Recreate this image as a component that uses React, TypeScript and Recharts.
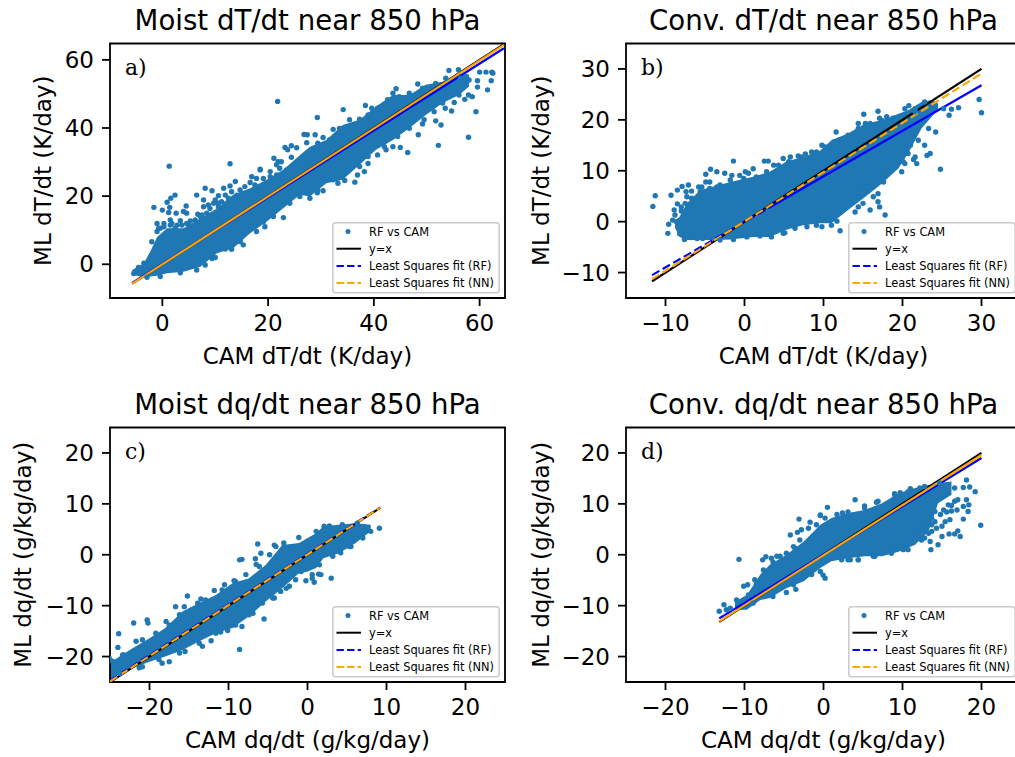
import { Area, ComposedChart, Label, Legend, Line, ReferenceArea, Scatter, XAxis, YAxis } from "recharts";

const DOT_BLUE = "#1f77b4";
const SANS = "'DejaVu Sans', sans-serif";

// dense core of each cloud: edges, x / lower / upper
const aBandX = [-5.7, -3.5, -2.3, -1, 0.9, 4, 7.2, 10.3, 13.4, 16.6, 19.7, 22.8, 26, 27.9, 31, 34.1, 37.3, 40.4, 43.6, 46.7, 49.8, 53, 56.1, 58];
const aBandLow = [-3.1, -3.8, -3.6, -3.4, -2.6, -2.2, -0.7, 3.2, 4.7, 9.1, 12.5, 16.4, 20.4, 19.9, 23.8, 24.8, 29.2, 33.6, 36.5, 39.9, 43.8, 47.3, 49.7, 52.2];
const aBandHigh = [-1.7, 0.3, 3.7, 8, 10.6, 10.6, 13.5, 16.4, 20.4, 22.3, 24.8, 27.7, 32, 34.5, 36.5, 40.9, 42.4, 46.3, 49.7, 49.7, 52.7, 53.6, 56.1, 55.6];

const bBandX = [-8.8, -8.2, -7.3, -5.6, -3.9, -1.8, 1.1, 3.2, 5.3, 7.4, 9.6, 11, 13.1, 15.3, 17.4, 19.5, 20.7, 22.4, 23.7, 24.5];
const bBandLow = [-1.2, -3, -3.6, -3.6, -3.6, -3.5, -3, -3, -1.6, -0.7, -0.3, -0.3, 2.3, 4.9, 7.5, 10.5, 13.4, 18.3, 20.6, 22.2];
const bBandHigh = [0.2, 1, 3.6, 6.2, 6.9, 7.8, 8.8, 9.8, 11.8, 12.7, 14, 16, 17.3, 19.3, 19.9, 21.2, 21.9, 23.5, 23.9, 23.2];

const cBandX = [-25.1, -23.8, -22.2, -20, -18, -15.8, -13.7, -11.6, -9.5, -7.4, -5.3, -3.2, -1.05, 0, 1.1, 2, 4, 6.1, 8];
const cBandLow = [-24.6, -23.3, -22.3, -21, -20, -18.7, -17, -15.4, -14.4, -12.1, -9.2, -6.6, -3.6, -3.3, -2.6, -0.7, 0.3, 2.3, 4.6];
const cBandHigh = [-21.3, -20, -18.4, -16.4, -14.4, -11.1, -9.5, -7.9, -5.6, -4.6, -2, 1.9, 2.3, 3.3, 4.2, 5.6, 5.9, 6.2, 5.9];

const dBandX = [-11.2, -9.7, -8, -6.8, -4.7, -2.5, -0.4, 1, 3.1, 5.2, 7.4, 9.5, 11.6, 13.3, 14.5, 16.2];
const dBandLow = [-10.8, -10.8, -8.9, -8.5, -6.6, -5.2, -2.6, -1.3, -0.7, -0.3, -0.3, 0.6, 1.96, 4.6, 10.1, 11.8];
const dBandHigh = [-9.2, -7.9, -3.9, -1.97, 0, 2.6, 5.9, 7.2, 8.2, 8.8, 10.1, 12.1, 13.1, 13.7, 14.1, 14.4];

// individual points standing clear of the core, then those along its rough edge
const aDots = [
  [-1.6, 16.7], [0, 15.9], [0.9, 18.2], [1.6, 19.4], [2.4, 20.3], [1.4, 16.7], [1.2, 15.2], [2.6, 15], [4, 15.5], [4.5, 17.1],
  [4.6, 15], [6.5, 20.3], [6.7, 14.7], [-1, 12], [0.3, 12], [1.5, 13], [3.4, 12.8], [2.8, 11.5], [5.3, 12.7], [8.1, 22.3],
  [9.4, 21.6], [10.6, 20.1], [7.8, 18.9], [10, 18.9], [8.7, 17.4], [11.6, 22.3], [13.8, 24.3], [12.8, 23], [16.9, 25.7], [18.5, 27.7],
  [16.6, 24], [17.8, 25.2], [22.9, 13.7], [19.4, 11], [19.1, 12.5], [15.3, 5.7], [13.1, 4.4], [10, 2], [16, 10], [14.7, 7.1],
  [21.8, 47.8], [1.3, 28.8], [12.8, 29.5], [18.5, 27.9], [26.8, 38.1], [27.4, 38], [23.2, 34.3], [24.4, 34.8], [23.7, 33.6], [25.4, 34.2],
  [27.3, 35.7], [21.1, 31.1], [21.9, 30.1], [22.5, 30.1], [24.4, 31.4], [21.6, 29.2], [29.3, 43.1], [34.2, 45.4], [32.3, 39.6], [28.9, 38],
  [30.4, 37.2], [38.4, 46.6], [39.6, 45.8], [43.6, 50.2], [44.2, 51.5], [48.3, 52.9], [54.2, 56.9], [56, 57.1], [60, 56.4], [61.2, 56.4],
  [62.3, 56.4], [62.5, 56.1], [62.2, 53.9], [61.5, 51.2], [59.6, 53.9], [59.6, 52], [58.6, 49.2], [57.2, 48.4], [57.9, 49.7], [58, 54.1],
  [57.4, 55.1], [55.2, 47.5], [54.7, 45], [53.5, 45.8], [59.3, 44.8], [57.9, 37.3], [52.2, 34.9], [46.4, 32.8], [45, 34.3], [48.4, 38],
  [49.2, 41.2], [51.7, 42.1], [52.7, 40.9], [51.4, 44.8], [38.2, 27.2], [36.9, 26.2], [36.4, 24.1], [38.9, 29.6], [37.3, 28.7], [34.5, 24.6],
  [33.2, 23.8], [30.4, 21.6], [29.3, 21], [27.9, 19.4], [43.6, 34.5], [40.7, 32.1], [42.3, 33.6],
  [-0.4, 10.6], [1.5, 11.5], [-1, 9.6], [-2, 6.6], [4.6, 12], [7.2, 14], [8.4, 15], [10.6, 17.9], [12.2, 17.9], [14.1, 20.3],
  [15.3, 20.8], [17.8, 22.3], [20.4, 25.7], [21.6, 26.2], [23.5, 27.7], [25, 29.2], [3.4, -2.5], [6.5, -1.7], [8.1, -0.2], [9.4, 1.7],
  [11.9, 4.5], [14.7, 6.7], [17.8, 9.6], [21, 14], [24.1, 17.9], [26, 19.9], [-0.4, -3.6], [-2.9, -3.8], [-5.4, -2.7], [-4.5, -0.9],
  [-3.5, 0.3], [29.4, 35.5], [31.6, 36.5], [33.5, 39.9], [35.4, 42.4], [37.3, 42.6], [38.9, 43.8], [40.7, 45.8], [42.6, 48.3], [44.8, 49.2],
  [46.7, 50.2], [49.2, 51.7], [51.7, 53.1], [53.6, 54.6], [56.4, 54.6], [29.4, 21.8], [32.3, 24.8], [35.4, 28.2], [38.9, 31.6], [42, 34.5],
  [44.5, 37.5], [46.7, 39.9], [49.5, 42.4], [53, 47.3], [56.1, 49.7],
  [-0.7, 10.6], [0.3, 11], [1.8, 12], [2.4, 10.6], [3.7, 11.5], [5, 11.5], [6.2, 13], [7.5, 14.5], [9, 16.4], [7.8, 16.9],
  [10.6, 16.9], [11.2, 18.4], [9.7, 17.9], [11.9, 20.3], [13.1, 21.3], [14.7, 21.8], [12.5, 19.4], [15.6, 22.8], [17.5, 23.3], [19.1, 25.2],
  [20.4, 27.2], [22.2, 28.2],
];

const bDots = [
  [-11.6, 3], [-11.3, 5.1], [-9.3, 5.2], [-8.5, 6.2], [-7.9, 6.9], [-7.1, 7.2], [-7.4, 5.9], [-6.7, 6], [-7.3, 4.9], [-8.5, 3.5],
  [-7.5, 3.6], [-8.9, 2.3], [-8, 2.1], [-9.6, -0.5], [-9.1, 0.3], [-9.7, -2.3], [-8.2, -2.4], [-7.6, -3.5], [-6.8, -3.1], [-5.8, 6.8],
  [-5.4, 6.8], [-4.9, 7.8], [-4.9, 9.3], [-4.3, 10.3], [-3.5, 9.8], [-4.4, 7.8], [-3.5, 6.8], [-2.5, 9.5], [-1.6, 9.1], [-1.4, 11.9],
  [-0.6, 9.1], [0.1, 9.8], [0.5, 9.5], [1.1, 10.4], [2.5, 11.9], [3, 11.9], [3.7, 11.1], [4.9, 12.4], [5.8, 12.7], [6.8, 12.9],
  [7.7, 13.3], [8.5, 13.7], [-5.3, -3.3], [1.96, -2.8], [3.4, -3], [5.1, -2.2], [7.9, -1], [9.8, 15], [11, 14.8], [11.6, 17.6],
  [11.9, 16], [12.9, 16.3], [14.4, 19.3], [15.3, 19.3], [15.1, 21.1], [16.9, 21.7], [18, 20.6], [17.1, 20.3], [20.3, 22.2], [20.8, 22.8],
  [21.6, 21.6], [22.8, 23.5], [26.2, 22.1], [27.1, 22.4], [25.9, 20.9], [25.2, 22.2], [24.2, 17.6], [29.7, 24], [30, 21.4], [24.8, 10.3],
  [23.5, 13.4], [22.8, 15], [23.1, 13], [21, 15], [21.6, 12.7], [21.8, 11.4], [21.4, 12.2], [20.3, 11.4], [19.9, 9.8], [17.6, 7.8],
  [16.9, 5.5], [16.3, 4.9], [16.9, 3.9], [17.1, 2.9], [15.9, 2.3], [17.8, 1.3], [14, 1.9], [12.1, -1.8], [11, -0.7], [11.7, 0.1],
  [9.8, -1], [10.6, 0.3], [14.8, 6.8], [15.7, 6.8], [15, 3.6], [14.4, 2.9],
  [-6.7, 4.6], [-5.6, 5.9], [-4.4, 6.5], [-3.1, 7.2], [-1.8, 8.2], [-0.1, 8.5], [1.5, 8.8], [2.8, 9.8], [4.3, 11.1], [5.6, 11.8],
  [7.2, 12.7], [9.1, 13.7], [-8.6, 0], [-8.8, 1.3], [-8, 2.9], [-8.4, -1], [-8, -2.3], [-6, -3.3], [-3.1, -3.6], [-1.4, -3.5],
  [0.3, -3], [4.9, -2.3], [6.4, -1.3], [9.1, -0.7], [10.2, 14.7], [11.4, 15.7], [13.1, 17], [14.4, 18.3], [15.9, 19.3], [17.4, 19.9],
  [18.8, 20.3], [21.6, 22.2], [14.4, 4.9], [15.3, 5.9], [16.3, 7.5], [17.8, 9.5], [20.1, 11.8], [20.7, 13.4], [22, 16], [23.3, 18.3],
];

const cDots = [
  [-23.9, -15.5], [-24, -18.2], [-22, -13.4], [-20.3, -12.8], [-20.2, -13.4], [-17.9, -13.1], [-16.7, -10.2], [-15.2, -8.1], [-15.6, -10.2], [-13.5, -8.7],
  [-13.9, -9.5], [-11.8, -7], [-10.5, -5.9], [-9.3, -5.1], [-8.6, -1], [-8.3, -0.9], [-6.3, 2.1], [-6.6, -0.8], [-5.9, 0.3], [-6.5, -1.9],
  [-4.2, 1.9], [-3, 2.3], [-1.1, 3.4], [-8.6, -18.6], [-5.5, -12.6], [-6.9, -11.5], [-8.3, -14.1], [-9.1, -13.8], [-10.1, -14.9], [-11, -15.2],
  [-12.2, -16.9], [-13.3, -18], [-15.5, -19], [-17.5, -21], [-18.4, -21.3], [-21.3, -22.2], [-25.1, -20.3], [-23.3, -19.7], [-4.2, -8.5], [-3.4, -7.2],
  [-3.8, -5.1], [-2.3, -6.2], [-1.5, -4.9], [-0.3, -2.9], [9.1, 5.2], [-0.2, -5.1], [0.85, -5.4], [0.6, -3.9], [0.6, -4.6], [1.4, -3.8],
  [1.7, -3.9], [3, -4.6], [4.2, 0.4], [2.1, 5.6], [2.8, 5.6], [5.5, 1.6],
  [-24.7, -20.9], [-23.4, -19.7], [-21.7, -17], [-20.9, -16.7], [-19.2, -15.4], [-17.5, -13.8], [-16.2, -11.8], [-14.6, -10.8], [-12.9, -8.9], [-10.8, -6.9],
  [-9.1, -5.3], [-7.8, -3.9], [-6.1, -2.3], [-4.8, 0], [-4, 1.6], [-23.8, -23.3], [-20.9, -22], [-18.8, -20.6], [-16.2, -19.3], [-13.7, -17.4],
  [-11.6, -15.4], [-9.5, -13.8], [-7.4, -11.8], [-5.7, -9.5], [-4.4, -8.5], [-2.7, -6.6], [1.1, 4.6], [2.75, 5.6], [4.4, 5.9], [6.3, 6.2],
  [-0.8, -3.3], [1.5, -1.97], [3.2, -0.3], [5.3, 1.6], [7, 3.3], [8, 4.6],
];

const dDots = [
  [-13.2, -11.1], [-12.6, -9.8], [-12.3, -10.8], [-11.8, -10.5], [-10.7, -0.9], [-10.1, -6.2], [-9.6, -5.9], [-8.7, -4.9], [-7.7, -1], [-7.3, -0.4],
  [-6.6, -0.7], [-6.4, -1.4], [-4.2, 3.9], [-3.1, 7], [-2.8, 4.9], [-3.3, 4.4], [-1.7, 6.4], [-0.9, 5.9], [-3.5, -6.8], [-4.7, -7.4],
  [-0.4, 7.7], [-3.8, 1.6], [-5.5, -0.3], [0.5, 9.3], [-0.4, 7.8], [0.2, 7.2], [2.4, 8.2], [4, 10.8], [5.2, 9.6], [6.7, 10.3],
  [9, 12], [9.7, 12.2], [11, 13], [12.2, 13.1], [18.1, 14.7], [17.7, 13.2], [18.5, 13.3], [19.2, 12.4], [16.6, 13.1], [17, 10.8],
  [16.6, 10.5], [16.2, 9.7], [18.4, 9.8], [18.1, 10.8], [17.7, 9.5], [16.9, 8.8], [18.3, 8.5], [19.9, 5.8], [17.7, 7], [16.2, 8.6],
  [15.6, 8.4], [16, 6.9], [15.4, 6.5], [14.1, 6.5], [15, 5.6], [17, 4.7], [17.3, 3.6], [16.6, 4.1], [15.9, 4.1], [15, 3.6],
  [14.5, 1.96], [13.6, 1], [13.5, 2.6], [12.4, 2.9], [13.3, 4.2], [11.6, 3.3], [10.1, 1], [8.4, 1], [0.2, -4.6], [-0.4, -3.3],
  [-0.05, -4], [4.4, -1], [3.4, -1], [2.3, -1], [6.5, -0.3],
  [-11, -8.9], [-9.5, -7.9], [-8.5, -5.3], [-7.6, -3], [-5.9, -0.3], [-4.7, 0.3], [-3.6, 1.3], [-3, 2.9], [-1.9, 5.2], [-8.9, -9.5],
  [-6.4, -8.2], [-3.8, -5.9], [-1.5, -3.9], [1.7, 7.9], [3.1, 8.4], [5.2, 9.2], [6.9, 10.5], [9, 11.8], [10.7, 12.4], [12.8, 13.4],
  [14.7, 14.1], [3.1, -1], [4.4, -1], [6.3, -0.3], [8.6, 0.3], [10.7, 1], [12.8, 3.3], [13.7, 5.9], [14.8, 7.9], [15.8, 9.8],
  [14.1, 8.5], [15.2, 8.8], [13.7, 7.2], [12.8, 5.9], [12.2, 4.6], [13.7, 4.6], [14.3, 5.2],
];

// fit lines as [x, y] end points
const aLine = [[-5.7, -5.7], [64.6, 64.6]];
const aRF = [[-5.7, -5.5], [64.6, 63.4]];
const aNN = [[-5.7, -5.7], [64.6, 64.4]];
const bLine = [[-11.7, -11.7], [30, 30]];
const bRF = [[-11.7, -10.5], [3, 2.64]];
const bRFSolid = [[3, 2.64], [30, 26.8]];
const bNN = [[-11.7, -11.3], [30, 29.1]];
const cLine = [[-25, -25], [9.2, 9.2]];
const cRF = [[-25, -24.7], [9.2, 9.3]];
const cNN = [[-25, -24.9], [9.2, 9.25]];
const dLine = [[-13.2, -13.2], [20, 20]];
const dRF = [[-13.2, -12.5], [20, 19]];
const dNN = [[-13.2, -13.1], [20, 19.6]];

const aTicks = [0, 20, 40, 60];
const tTicks = [-10, 0, 10, 20, 30];
const qTicks = [-20, -10, 0, 10, 20];

const legendNames = ["RF vs CAM", "y=x", "Least Squares fit (RF)", "Least Squares fit (NN)"];

const toRows = (pairs: number[][]) => pairs.map(([x, y]) => ({ x, y }));
const minus = (v: number) => String(v).replace("-", "\u2212");

const DASH = "8.5 3.7";

function FitLegend({ payload }: any) {
  const items = legendNames.map((name) => (payload || []).find((e: any) => e.value === name)).filter(Boolean);
  return (
    <svg width={168} height={72} style={{ display: "block" }}>
      <rect x={0.8} y={0.8} width={166.4} height={70} rx={3} fill="#fff" fillOpacity={0.8} stroke="#ccc" strokeWidth={1.6} />
      {items.map((item: any, i: number) => {
        const y = 9.5 + i * 17.2;
        return (
          <g key={item.value}>
            {i === 0 ? (
              <circle cx={16} cy={y} r={2.5} fill={DOT_BLUE} />
            ) : (
              <line x1={4.5} x2={29} y1={y} y2={y} stroke={item.color} strokeWidth={2}
                strokeDasharray={i === 1 ? undefined : "7.4 3.2"} />
            )}
            <text x={37} y={y + 4} fontSize={11.4} fontFamily={SANS} fill="#000">{item.value}</text>
          </g>
        );
      })}
    </svg>
  );
}

interface PanelProps {
  left: number; top: number; yAxisWidth: number; yLabelX: number;
  title: string; tag: string; xLabel: string; yLabel: string;
  domain: [number, number]; xTicks: number[]; yTicks: number[];
  bandX: number[]; bandLow: number[]; bandHigh: number[]; dots: number[][];
  line: number[][]; rf: number[][]; nn: number[][]; rfSolid?: number[][];
  rfDash?: string; nnDash?: string;
}

function Panel(p: PanelProps) {
  const rows = p.bandX.map((x, i) => ({ x, band: [p.bandLow[i], p.bandHigh[i]] }));
  const plotCentre = p.yAxisWidth + 197.5;
  const yLabelContent = (props: any) => (
    <text x={p.yLabelX} y={props.viewBox.y + props.viewBox.height / 2} textAnchor="middle" dominantBaseline="central"
      fontSize={23} fontFamily={SANS} fill="#000"
      transform={`rotate(-90 ${p.yLabelX} ${props.viewBox.y + props.viewBox.height / 2})`}>
      {p.yLabel}
    </text>
  );
  return (
    <div style={{ position: "absolute", left: p.left, top: p.top, width: p.yAxisWidth + 400, height: 370 }}>
      <ComposedChart width={p.yAxisWidth + 400} height={370} data={rows}
        margin={{ top: 43.5, right: 5, bottom: 0, left: 0 }}>
        <XAxis dataKey="x" type="number" domain={p.domain} ticks={p.xTicks} allowDataOverflow height={72}
          axisLine={false} tickLine={{ stroke: "#000", strokeWidth: 1.8 }} tickSize={8} tickMargin={9} interval={0}
          tickFormatter={minus} tick={{ fontSize: 23, fill: "#000", fontFamily: SANS }}>
          <Label value={p.xLabel} position="insideBottom" offset={6} fontSize={23} fill="#000" fontFamily={SANS} />
        </XAxis>
        <YAxis type="number" domain={p.domain} ticks={p.yTicks} allowDataOverflow width={p.yAxisWidth}
          axisLine={false} tickLine={{ stroke: "#000", strokeWidth: 1.8 }} tickSize={8} tickMargin={8} interval={0}
          tickFormatter={minus} tick={{ fontSize: 23, fill: "#000", fontFamily: SANS }}>
          <Label content={yLabelContent} />
        </YAxis>
        <Scatter name="RF vs CAM" data={toRows(p.dots)} dataKey="y" fill={DOT_BLUE} isAnimationActive={false}
          shape={(s: any) => <circle cx={s.cx} cy={s.cy} r={2.7} fill={DOT_BLUE} />} />
        <Area dataKey="band" stroke="none" fill={DOT_BLUE} fillOpacity={1} legendType="none" dot={false} activeDot={false}
          isAnimationActive={false} />
        <Line name="y=x" data={toRows(p.line)} dataKey="y" stroke="#000" strokeWidth={2.2} dot={false} activeDot={false}
          isAnimationActive={false} />
        <Line name="Least Squares fit (RF)" data={toRows(p.rf)} dataKey="y" stroke="#0000ff" strokeWidth={2.2}
          strokeDasharray={p.rfDash} dot={false} activeDot={false} isAnimationActive={false} />
        {p.rfSolid && (
          <Line name="RF solid" data={toRows(p.rfSolid)} dataKey="y" stroke="#0000ff" strokeWidth={2.2} legendType="none"
            dot={false} activeDot={false} isAnimationActive={false} />
        )}
        <Line name="Least Squares fit (NN)" data={toRows(p.nn)} dataKey="y" stroke="#ffa500" strokeWidth={2.2}
          strokeDasharray={p.nnDash} dot={false} activeDot={false} isAnimationActive={false} />
        <ReferenceArea x1={p.domain[0]} x2={p.domain[1]} y1={p.domain[0]} y2={p.domain[1]} fill="none" stroke="#000"
          strokeWidth={1.8} ifOverflow="visible" />
        <Legend content={<FitLegend />} layout="vertical" align="center" verticalAlign="middle"
          wrapperStyle={{ left: p.yAxisWidth + 222, top: 221.7, width: 168, height: 72 }} />
      </ComposedChart>
      <div style={{ position: "absolute", left: plotCentre - 250, width: 500, top: 5, textAlign: "center", fontSize: 27.6, lineHeight: "32px", fontFamily: SANS, color: "#000" }}>
        {p.title}
      </div>
      <div style={{ position: "absolute", left: p.yAxisWidth + 15, top: 55, fontSize: 22, lineHeight: "26px", fontFamily: "'DejaVu Serif', serif", color: "#000" }}>
        {p.tag}
      </div>
    </div>
  );
}

export default function App() {
  return (
    <div style={{ position: "absolute", left: 0, top: 0, width: 1015, height: 757, overflow: "hidden", background: "#fff" }}>
      <Panel left={0} top={0} yAxisWidth={110} yLabelX={43} title="Moist dT/dt near 850 hPa" tag="a)"
        xLabel="CAM dT/dt (K/day)" yLabel="ML dT/dt (K/day)" domain={[-9.9, 64.8]} xTicks={aTicks} yTicks={aTicks}
        bandX={aBandX} bandLow={aBandLow} bandHigh={aBandHigh} dots={aDots} line={aLine} rf={aRF} nn={aNN} />
      <Panel left={510} top={0} yAxisWidth={116} yLabelX={31} title="Conv. dT/dt near 850 hPa" tag="b)"
        xLabel="CAM dT/dt (K/day)" yLabel="ML dT/dt (K/day)" domain={[-15, 35]} xTicks={tTicks} yTicks={tTicks}
        bandX={bBandX} bandLow={bBandLow} bandHigh={bBandHigh} dots={bDots} line={bLine} rf={bRF} rfSolid={bRFSolid} nn={bNN}
        rfDash={DASH} nnDash={DASH} />
      <Panel left={0} top={384} yAxisWidth={110} yLabelX={23} title="Moist dq/dt near 850 hPa" tag="c)"
        xLabel="CAM dq/dt (g/kg/day)" yLabel="ML dq/dt (g/kg/day)" domain={[-25, 25]} xTicks={qTicks} yTicks={qTicks}
        bandX={cBandX} bandLow={cBandLow} bandHigh={cBandHigh} dots={cDots} line={cLine} rf={cRF} nn={cNN}
        rfDash={DASH} nnDash={DASH} />
      <Panel left={510} top={384} yAxisWidth={116} yLabelX={31} title="Conv. dq/dt near 850 hPa" tag="d)"
        xLabel="CAM dq/dt (g/kg/day)" yLabel="ML dq/dt (g/kg/day)" domain={[-25, 25]} xTicks={qTicks} yTicks={qTicks}
        bandX={dBandX} bandLow={dBandLow} bandHigh={dBandHigh} dots={dDots} line={dLine} rf={dRF} nn={dNN} />
    </div>
  );
}
